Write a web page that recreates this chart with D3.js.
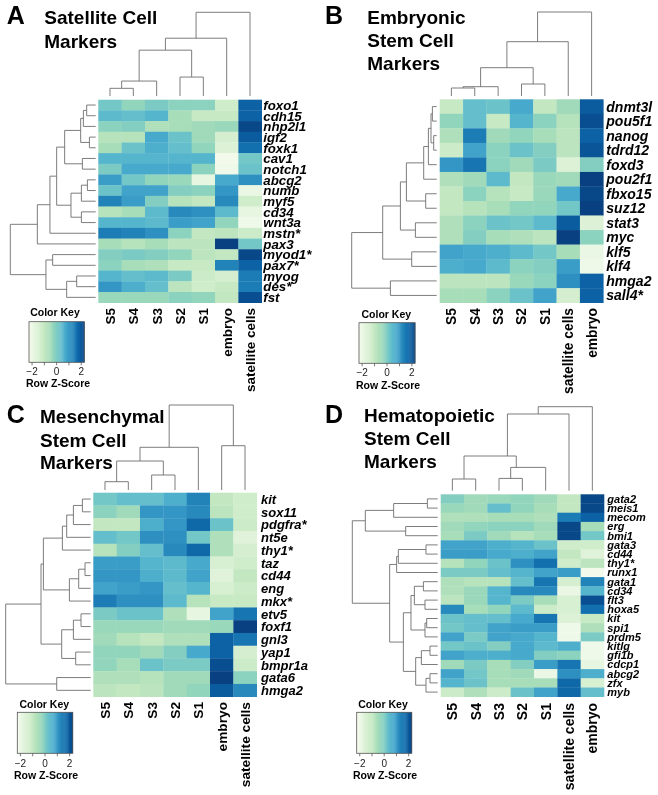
<!DOCTYPE html>
<html><head><meta charset="utf-8">
<script src="https://cdn.jsdelivr.net/npm/d3@7"></script>
<style>
html,body{margin:0;padding:0;background:#fff}
svg{display:block;font-family:"Liberation Sans",Arial,sans-serif;filter:blur(0.35px)}
</style></head><body>
<div id="chart"></div>
<script>
const rowsA=["foxo1","cdh15","nhp2l1","igf2","foxk1","cav1","notch1","abcg2","numb","myf5","cd34","wnt3a","mstn*","pax3","myod1*","pax7*","myog","des*","fst"];
const colsA=["S5","S4","S3","S2","S1","embryo","satellite cells"];
const valuesA=[
[0.1,-0.3,0,-0.2,-0.2,-1.3,1.8],
[0.4,0.3,0.5,-0.6,-1.1,-1.1,1.8],
[-0.2,-0.1,-0.7,-0.6,-0.5,-0.4,2.2],
[-0.8,-0.8,0.7,0.2,-0.5,-1.4,1.9],
[-0.6,0.2,0.6,0.3,-0.3,-1.6,1.6],
[0.5,0.5,0.5,0.5,0.5,-2.2,0.1],
[0,0.7,0.7,0.7,-0.2,-2.1,0.2],
[0.9,0.1,-0.3,-0.4,-1.9,0.7,1.1],
[0.2,0.8,0.8,-0.1,-0.2,1.0,-2.0],
[1.3,0.9,-0.1,-0.8,-1.0,1.2,-1.3],
[-0.8,-0.6,0.4,1.2,1.1,0.4,-1.9],
[0.5,0.5,0.4,0.9,0.8,-0.3,-2.1],
[1.4,1.3,1.1,-0.2,-1.0,-0.9,-1.2],
[-0.6,-0.8,-0.6,-0.9,-0.9,2.3,0.1],
[-0.1,0,-0.1,-0.3,-0.9,-1.0,2.2],
[-0.2,-0.6,-0.7,-1.1,-1.1,1.3,1.8],
[0.5,0.3,0.4,0,-1.2,-1.4,1.4],
[1.0,0.6,0.3,-0.9,-1.3,-1.1,1.4],
[-0.4,-0.4,-0.4,-0.2,-0.3,-1.0,2.1]];
const colTreeA=[84,[58,[46,[15,[7.7,0,1],2],[19,3,4]],5],6];
const rowTreeA=[85.3,[58.3,[45.7,[39,[31,[15,[12.3,[9,0,1],2],[6.3,3,4]],[13.3,5,6]],[24.7,[14.3,[8.3,7,8],9],[14.3,10,11]]],12],13],[49.7,[43,14,15],[29,[19,16,17],18]]];

const rowsB=["dnmt3l","pou5f1","nanog","tdrd12","foxd3","pou2f1","fbxo15","suz12","stat3","myc","klf5","klf4","hmga2","sall4*"];
const colsB=["S5","S4","S3","S2","S1","satellite cells","embryo"];
const valuesB=[
[-1.1,0.3,0.2,0.7,-1.0,-0.5,1.9],
[-0.3,0.3,-1.1,0.5,-0.2,-0.8,2.1],
[-0.7,1.4,-0.5,-0.3,-0.6,-0.9,1.8],
[-1.2,0.8,-0.2,0.2,-0.1,-0.9,2.0],
[1.0,1.5,-0.2,-0.5,0,-1.6,-0.1],
[-0.7,-0.5,0.4,-1.0,-0.4,-0.5,2.3],
[-1.0,-0.2,-0.8,-1.1,-0.4,0.7,2.2],
[-1.0,-0.8,-0.6,-0.3,-0.3,0.1,2.3],
[-0.7,-0.2,0.2,0.1,0.4,1.9,-1.6],
[-0.7,-0.1,-0.6,-0.7,-0.9,2.3,-0.2],
[0.8,0.7,0.6,0.4,0.1,-0.6,-2.0],
[0.6,0.7,0.4,-0.2,-0.1,0.9,-2.1],
[-0.9,-0.9,-0.9,-0.4,-0.2,1.1,1.8],
[-0.6,-0.6,-0.2,0.2,0.8,-1.4,1.8]];
const colTreeB=[84,[54.3,[28.3,[9.3,[8,0,1],2],[12,3,4]],5],6];
const rowTreeB=[85,[54,[36.3,[30.3,[13,[8.3,[5.7,[4.3,0,1],[3,2,3]],4],5],[11,6,7]],[21.3,8,9]],[25,10,11]],[46.3,12,13]];

const rowsC=["kit","sox11","pdgfra*","nt5e","thy1*","taz","cd44","eng","mkx*","etv5","foxf1","gnl3","yap1","bmpr1a","gata6","hmga2"];
const colsC=["S5","S4","S3","S2","S1","embryo","satellite cells"];
const valuesC=[
[0.1,0.3,0.3,0.6,1.3,-1.0,-1.3],
[-0.2,-0.5,1.0,1.0,1.2,-0.9,-1.3],
[-1.0,-1.0,0.6,1.0,1.7,0.2,-1.2],
[0.3,0.1,1.1,1.1,0.1,-0.7,-1.7],
[-0.8,-0.1,0.3,1.2,1.7,-0.7,-1.4],
[0.9,0.9,0.5,0.4,0.7,-1.5,-1.3],
[1.0,1.0,0.6,0.4,0.8,-1.7,-1.0],
[0.8,0.9,1.0,0.3,0.5,-1.5,-1.2],
[1.4,1.1,1.1,0.4,-0.8,-1.1,-1.1],
[0,0.2,0.2,-0.7,-1.9,0.8,1.5],
[-0.4,-0.4,-0.4,-0.5,-0.5,-0.4,2.3],
[-0.5,-0.8,-1.0,-0.7,-0.7,1.8,1.5],
[-0.3,-0.3,-0.5,-0.1,0.7,1.8,-1.4],
[-0.3,-0.6,0.2,0,0,2.1,-1.2],
[-0.7,-0.7,-0.8,-0.5,-0.5,2.3,-0.2],
[-0.9,-1.0,-0.9,-0.5,-0.3,1.9,1.2]];
const colTreeC=[85,[42.7,[29,[8.3,0,1],[15,2,3]],4],[44.3,5,6]];
const rowTreeC=[85,[49.7,[47.3,[28.3,[24,[17.3,[8.3,0,1],2],3],4],[21.3,[12,[5.7,5,6],7],8]],[29,[17.3,[9.7,9,10],11],[15,12,13]]],[34,14,15]];

const rowsD=["gata2","meis1","mecom","erg","bmi1","gata3","cd44","thy1*","runx1","gata1","cd34","flt3","hoxa5","kit","spi1","prdm5","kitlg","gfi1b","cdcp1","abcg2","zfx","myb"];
const colsD=["S5","S4","S3","S2","S1","satellite cells","embryo"];
const valuesD=[
[-0.1,-0.5,-0.4,-0.3,-0.5,-1.0,2.2],
[-0.4,-0.5,0.3,-0.3,-0.6,-1.0,2.2],
[-0.7,-0.7,-0.6,-0.6,-0.7,1.4,1.8],
[-0.5,-0.3,-0.2,-0.2,-0.5,2.2,-0.6],
[-0.6,0,-0.5,-0.8,-0.6,2.2,0.1],
[0.8,0.8,0.6,0.5,0.2,-1.3,-1.3],
[0.9,0.9,0.7,0.6,0.8,-1.0,-1.7],
[-0.8,-0.3,0.2,1.1,1.6,-1.3,-0.9],
[0,0,0.3,0.5,0.8,0.9,-2.2],
[-0.7,-0.8,-0.8,0.3,1.5,-1.4,1.3],
[-0.7,-0.4,0.5,1.2,1.2,-2.0,0.5],
[-0.9,-0.4,0.5,0,-0.6,-1.5,2.1],
[1.2,-0.6,-0.3,0.4,-1.2,-1.5,1.6],
[0.2,0.3,0.3,0.7,1.5,-1.6,-1.1],
[0.1,0.3,0.8,0.9,0.9,-2.1,-0.7],
[0.8,0,0.8,0.7,0.5,-2.1,0.0],
[0.1,0.2,-0.1,0.7,0.4,0.6,-2.1],
[0.8,0.6,0.6,0.7,-0.1,-0.2,-2.1],
[-0.5,0,-0.6,-0.1,0.9,1.5,-1.9],
[0.8,0.1,-0.6,-0.5,-2.0,1.1,0.6],
[0.5,0.2,-0.6,-0.6,-0.6,1.7,-1.5],
[-1.2,-0.7,-1.2,0.2,0.8,1.7,0.3]];
const colTreeD=[84,[76.7,[34.7,[11.7,0,1],[23.3,[12.3,2,3],4,2.74],2.36],5],6];
const rowTreeD=[85.3,[72.3,[44,[10.3,0,1],2],[32,3,4]],[48,[41,[39.3,[11.7,5,6],7],8],[34.3,[26.7,[23.3,[14.3,9,10],[12.7,11,12]],[12.7,[11,13,14],15]],[22,[16.3,[7.7,16,17],18],[11.7,[7.7,19,20],21]]]]];

const keyTicks=[-2,-1,0,1,2];
const keyTickLabels=[-2,0,2];
const keyDomain=[-2.25,2.25];

const panels=[
 {letter:"A",title:["Satellite Cell","Markers"],rows:rowsA,cols:colsA,values:valuesA,colTree:colTreeA,rowTree:rowTreeA,
  letterX:6.7,letterY:24,titleX:44.3,titleY:[24.3,47.7],
  hm:[98.3,261.7,99.7,302.7],colBase:96,colTip:12.3,rowBase:95.7,rowTip:10.3,
  rowFont:13.3,rowX:263.3,colFont:13.5,colEnd:308,
  key:[29,84.3,321.7,362.3],keyTitle:[55,316],keyLabel:[58,387],tickY:374.5},
 {letter:"B",title:["Embryonic","Stem Cell","Markers"],rows:rowsB,cols:colsB,values:valuesB,colTree:colTreeB,rowTree:rowTreeB,
  letterX:325,letterY:24,titleX:367.3,titleY:[24,47.3,70],
  hm:[439.7,603.3,99.3,302.7],colBase:96,colTip:12,rowBase:436.7,rowTip:351.7,
  rowFont:14,rowX:606.3,colFont:13.8,colEnd:308,
  key:[359,415,322.7,363.3],keyTitle:[386.3,318],keyLabel:[388,389],tickY:376},
 {letter:"C",title:["Mesenchymal","Stem Cell","Markers"],rows:rowsC,cols:colsC,values:valuesC,colTree:colTreeC,rowTree:rowTreeC,
  letterX:6.7,letterY:423,titleX:40,titleY:[423.3,446.7,469.3],
  hm:[93.3,256.7,492.7,696.7],colBase:490,colTip:405,rowBase:90.7,rowTip:5.7,
  rowFont:13,rowX:261,colFont:13.7,colEnd:702,
  key:[17.3,72.7,712.3,753.3],keyTitle:[44.3,708.3],keyLabel:[46,779],tickY:766.5},
 {letter:"D",title:["Hematopoietic","Stem Cell","Markers"],rows:rowsD,cols:colsD,values:valuesD,colTree:colTreeD,rowTree:rowTreeD,
  letterX:325,letterY:423,titleX:364,titleY:[421.7,445,467.7],
  hm:[440.7,604,494.3,696.7],colBase:490.7,colTip:406.7,rowBase:437.7,rowTip:352.3,
  rowFont:11,rowX:607.3,colFont:14,colEnd:703,
  key:[356.7,411.7,712.3,753.3],keyTitle:[383,708],keyLabel:[385,779],tickY:766.5}
];

const color=d3.scaleSequential(d3.interpolateGnBu).domain([-2.3,2.3]);
const svg=d3.select("#chart").append("svg").attr("width",658).attr("height",795);
const line=d3.line();

function treeSegments(node,pos,hs,horizontal,segs){
  if(typeof node==="number") return {p:pos(node),h:hs(0)};
  const l=treeSegments(node[1],pos,hs,horizontal,segs);
  const r=treeSegments(node[2],pos,hs,horizontal,segs);
  const h=hs(node[0]);
  const p=node.length>3?pos(node[3]):(l.p+r.p)/2;
  const pts=[[l.p,l.h],[l.p,h],[r.p,h],[r.p,r.h]];
  segs.push(horizontal?pts.map(d=>[d[1],d[0]]):pts);
  return {p,h};
}

panels.forEach(P=>{
  const g=svg.append("g");
  const x=d3.scaleBand().domain(d3.range(P.cols.length)).range([P.hm[0],P.hm[1]]);
  const y=d3.scaleBand().domain(d3.range(P.rows.length)).range([P.hm[2],P.hm[3]]);
  const cells=P.values.flatMap((r,i)=>r.map((v,j)=>({i,j,v})));
  g.selectAll("rect.cell").data(cells).join("rect").attr("class","cell")
    .attr("x",d=>x(d.j)).attr("y",d=>y(d.i))
    .attr("width",x.bandwidth()+0.3).attr("height",y.bandwidth()+0.3)
    .attr("fill",d=>color(d.v));

  g.selectAll("text.rl").data(P.rows).join("text").attr("class","rl")
    .attr("x",P.rowX).attr("y",(d,i)=>y(i)+y.bandwidth()/2).attr("dy","0.36em")
    .attr("font-size",P.rowFont).attr("font-weight","bold").attr("font-style","italic").text(d=>d);

  g.selectAll("text.cl").data(P.cols).join("text").attr("class","cl")
    .attr("transform",(d,i)=>`translate(${x(i)+x.bandwidth()/2},${P.colEnd}) rotate(-90)`)
    .attr("dy","0.36em").attr("text-anchor","end")
    .attr("font-size",P.colFont).attr("font-weight","bold").text(d=>d);

  const colPos=d3.scaleLinear().domain([0,P.cols.length-1]).range([x(0)+x.bandwidth()/2,x(P.cols.length-1)+x.bandwidth()/2]);
  const colH=d3.scaleLinear().domain([0,P.colTree[0]]).range([P.colBase,P.colTip]);
  const colSegs=[]; treeSegments(P.colTree,colPos,colH,false,colSegs);
  const rowPos=d3.scaleLinear().domain([0,P.rows.length-1]).range([y(0)+y.bandwidth()/2,y(P.rows.length-1)+y.bandwidth()/2]);
  const rowH=d3.scaleLinear().domain([0,P.rowTree[0]]).range([P.rowBase,P.rowTip]);
  const rowSegs=[]; treeSegments(P.rowTree,rowPos,rowH,true,rowSegs);
  g.selectAll("path.den").data(colSegs.concat(rowSegs)).join("path").attr("class","den")
    .attr("d",line).attr("fill","none").attr("stroke","#6e6e6e").attr("stroke-width",0.9);

  g.append("text").attr("x",P.letterX).attr("y",P.letterY).attr("font-size",25).attr("font-weight","bold").text(P.letter);
  g.selectAll("text.ti").data(P.title).join("text").attr("class","ti")
    .attr("x",P.titleX).attr("y",(d,i)=>P.titleY[i]).attr("font-size",19).attr("font-weight","bold").text(d=>d);

  // colour key
  const kx=d3.scaleLinear().domain(keyDomain).range([P.key[0],P.key[1]]);
  const steps=d3.range(60).map(i=>keyDomain[0]+(keyDomain[1]-keyDomain[0])*i/60);
  g.selectAll("rect.kc").data(steps).join("rect").attr("class","kc")
    .attr("x",d=>kx(d)).attr("y",P.key[2]).attr("width",(P.key[1]-P.key[0])/60+0.4).attr("height",P.key[3]-P.key[2])
    .attr("fill",d=>color(d));
  g.append("rect").attr("x",P.key[0]).attr("y",P.key[2]).attr("width",P.key[1]-P.key[0]).attr("height",P.key[3]-P.key[2])
    .attr("fill","none").attr("stroke","#555").attr("stroke-width",0.8);
  g.selectAll("line.kt").data(keyTicks).join("line").attr("class","kt")
    .attr("x1",d=>kx(d)).attr("x2",d=>kx(d)).attr("y1",P.key[3]).attr("y2",P.key[3]+3)
    .attr("stroke","#555").attr("stroke-width",0.8);
  g.selectAll("text.kl").data(keyTickLabels).join("text").attr("class","kl")
    .attr("x",d=>kx(d)).attr("y",P.tickY).attr("text-anchor","middle").attr("font-size",10).attr("fill","#222")
    .text(d=>d<0?"\u2212"+Math.abs(d):d);
  g.append("text").attr("x",P.keyTitle[0]).attr("y",P.keyTitle[1]).attr("text-anchor","middle").attr("font-size",10.5).attr("font-weight","bold").text("Color Key");
  g.append("text").attr("x",P.keyLabel[0]).attr("y",P.keyLabel[1]).attr("text-anchor","middle").attr("font-size",10.5).attr("font-weight","bold").text("Row Z-Score");
});
</script>
</body></html>
